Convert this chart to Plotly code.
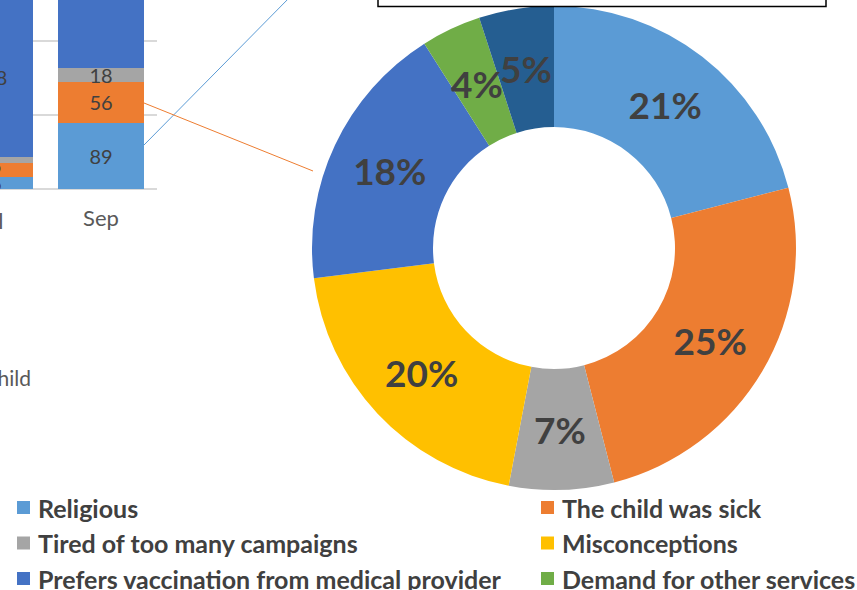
import math
import plotly.graph_objects as go

# ---------------- data ----------------
donut_labels = ["Religious", "The child was sick", "Tired of too many campaigns",
                "Misconceptions", "Prefers vaccination from medical provider",
                "Demand for other services", "Other"]
donut_values = [21, 25, 7, 20, 18, 4, 5]
colors = ["#5B9BD5", "#ED7D31", "#A5A5A5", "#FFC000", "#4472C4", "#70AD47", "#255E91"]

bar_months = ["Jul", "Sep"]
bar_religious = [16, 89]
bar_sick = [19, 56]
bar_tired = [8, 18]
bar_prefers = [218, 240]

W, H = 857, 590
FONT = "Lato"
TXT = "#404040"


def px(x):
    return x / W


def py(y):
    return 1 - y / H


fig = go.Figure()

# ---------------- stacked bars (cropped) ----------------
bar_series = [
    ("Religious", bar_religious, colors[0]),
    ("The child was sick", bar_sick, colors[1]),
    ("Tired of too many campaigns", bar_tired, colors[2]),
    ("Prefers vaccination from medical provider", bar_prefers, colors[4]),
]
for name, vals, col in bar_series:
    fig.add_trace(go.Bar(
        x=bar_months, y=vals, name=name, marker=dict(color=col, line=dict(width=0)),
        text=vals, textposition="inside", insidetextanchor="middle",
        constraintext="none", textangle=0,
        textfont=dict(family=FONT, size=20, color=TXT),
        xaxis="x", yaxis="y", showlegend=False, hoverinfo="skip",
    ))

fig.update_layout(
    barmode="stack", bargap=0.225,
    xaxis=dict(domain=[0, px(156.5)], range=[0.09, 1.5], type="category",
               showgrid=False, zeroline=False, showline=False, ticks="",
               tickfont=dict(family=FONT, size=22, color="#595959"),
               ticklabelstandoff=14, anchor="y"),
    yaxis=dict(domain=[py(189), 1], range=[0, 255.4], tickvals=[0, 100, 200],
               showticklabels=False, showgrid=True, gridcolor="#D9D9D9", gridwidth=1.5,
               zeroline=True, zerolinecolor="#D9D9D9", zerolinewidth=1.5, anchor="x"),
)

# ---------------- donut ----------------
CX, CY, R, HOLE = 554, 248, 242, 0.5
# small slices get their labels as annotations (Excel lets them overflow the slice)
small = {"Tired of too many campaigns", "Demand for other services", "Other"}
positions = ["none" if lab in small else "inside" for lab in donut_labels]

fig.add_trace(go.Pie(
    labels=donut_labels, values=donut_values, hole=HOLE, sort=False,
    direction="clockwise", rotation=0,
    marker=dict(colors=colors, line=dict(width=0)),
    texttemplate="%{percent:.0%}", textposition=positions,
    insidetextorientation="horizontal",
    textfont=dict(family=FONT, size=37, color=TXT, weight="bold"),
    domain=dict(x=[px(CX - R), px(CX + R)], y=[py(CY + R), py(CY - R)]),
    showlegend=False, hoverinfo="label+percent",
))

shapes = []
annotations = []

total = sum(donut_values)
cum = 0
r_mid = R * (1 + HOLE) / 2
for lab, v in zip(donut_labels, donut_values):
    if lab in small:
        frac = (cum + v / 2) / total
        ang = 2 * math.pi * frac
        x = CX + r_mid * math.sin(ang)
        y = CY - r_mid * math.cos(ang)
        annotations.append(dict(text=f"{round(100 * v / total)}%", xref="paper", yref="paper",
                                x=px(x), y=py(y), xanchor="center", yanchor="middle",
                                showarrow=False,
                                font=dict(family=FONT, size=37, color=TXT, weight="bold")))
    cum += v

# title box (cropped at top)
shapes.append(dict(type="rect", xref="paper", yref="paper",
                   x0=px(378), x1=px(826), y0=py(6.5), y1=py(-20),
                   line=dict(color="black", width=1.5), fillcolor="white"))

# connector lines from bar to donut
shapes.append(dict(type="line", xref="paper", yref="paper",
                   x0=px(144), y0=py(145), x1=px(292), y1=py(-5),
                   line=dict(color="#5B9BD5", width=1)))
shapes.append(dict(type="line", xref="paper", yref="paper",
                   x0=px(144), y0=py(103), x1=px(313), y1=py(171),
                   line=dict(color="#ED7D31", width=1)))

# cropped category label of the previous bar
annotations.append(dict(text="Jul", xref="paper", yref="paper", x=px(-10), y=py(220),
                        xanchor="center", yanchor="middle", showarrow=False,
                        font=dict(family=FONT, size=22, color="#595959")))

# cropped legend entry of the bar chart
annotations.append(dict(text="Sick child", xref="paper", yref="paper",
                        x=px(33), y=py(377), xanchor="right", yanchor="middle",
                        showarrow=False, font=dict(family=FONT, size=21, color="#595959")))

# donut legend (two columns)
col_x = [17, 541]
row_y0, row_dy = 507.5, 35.5
for i, (lab, col) in enumerate(zip(donut_labels, colors)):
    c, r = i % 2, i // 2
    yc = row_y0 + r * row_dy
    shapes.append(dict(type="rect", xref="paper", yref="paper",
                       x0=px(col_x[c]), x1=px(col_x[c] + 13),
                       y0=py(yc + 6.5), y1=py(yc - 6.5),
                       line=dict(width=0), fillcolor=col))
    annotations.append(dict(text=lab, xref="paper", yref="paper",
                            x=px(col_x[c] + 19), y=py(yc), xanchor="left", yanchor="middle",
                            showarrow=False,
                            font=dict(family=FONT, size=25, color=TXT, weight="bold")))

fig.update_layout(
    width=W, height=H, margin=dict(l=0, r=0, t=0, b=0, autoexpand=False),
    paper_bgcolor="white", plot_bgcolor="white",
    shapes=shapes, annotations=annotations,
)

fig.write_html("out.html", config={"displayModeBar": False},
               post_script="document.body.style.margin='0px';document.body.style.padding='0px';")
